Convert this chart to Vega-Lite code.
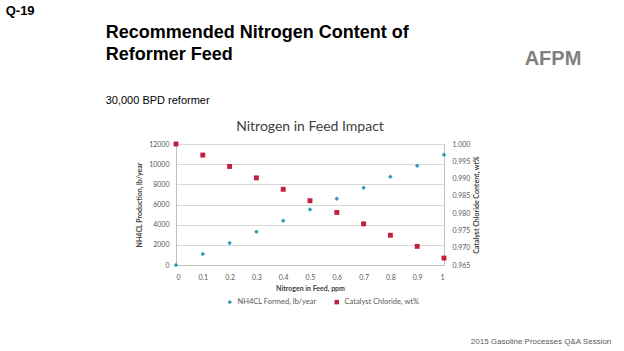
{
  "$schema": "https://vega.github.io/schema/vega-lite/v6.json",
  "background": "white",
  "padding": {"left": 5, "top": 5, "right": 3, "bottom": 5},
  "config": {
    "view": {"stroke": null},
    "font": "Lato",
    "concat": {"spacing": 0},
    "title": {"font": "Liberation Sans", "color": "#000000"}
  },
  "title": {"text": "2015 Gasoline Processes Q&A Session", "orient": "bottom", "anchor": "end", "fontSize": 8, "fontWeight": "normal", "color": "#595959", "offset": 32, "dx": 30},
  "vconcat": [
    {
      "title": {"text": "Q-19", "anchor": "start", "fontSize": 13, "fontWeight": "bold", "offset": 6, "dx": -100},
      "hconcat": [
        {
          "title": {"text": ["Recommended Nitrogen Content of", "Reformer Feed"], "subtitle": "30,000 BPD reformer", "anchor": "start", "fontSize": 18, "fontWeight": "bold", "lineHeight": 22, "subtitleFontSize": 11, "subtitlePadding": 31, "subtitleFont": "Liberation Sans", "subtitleColor": "#000000", "offset": 14, "dx": -30},
          "vconcat": [
            {
              "title": {"text": "Nitrogen in Feed Impact", "font": "Lato", "fontSize": 14, "fontWeight": "normal", "color": "#404040", "anchor": "middle", "offset": 6},
              "width": 268,
              "height": 121,
              "data": {"values": [
                {"ppm": 0.0, "series": "NH4CL Formed, lb/year", "value": 0},
                {"ppm": 0.1, "series": "NH4CL Formed, lb/year", "value": 1100},
                {"ppm": 0.2, "series": "NH4CL Formed, lb/year", "value": 2180},
                {"ppm": 0.3, "series": "NH4CL Formed, lb/year", "value": 3290},
                {"ppm": 0.4, "series": "NH4CL Formed, lb/year", "value": 4390},
                {"ppm": 0.5, "series": "NH4CL Formed, lb/year", "value": 5500},
                {"ppm": 0.6, "series": "NH4CL Formed, lb/year", "value": 6580},
                {"ppm": 0.7, "series": "NH4CL Formed, lb/year", "value": 7670},
                {"ppm": 0.8, "series": "NH4CL Formed, lb/year", "value": 8750},
                {"ppm": 0.9, "series": "NH4CL Formed, lb/year", "value": 9850},
                {"ppm": 1.0, "series": "NH4CL Formed, lb/year", "value": 10940},
                {"ppm": 0.0, "series": "Catalyst Chloride, wt%", "value": 1.0},
                {"ppm": 0.1, "series": "Catalyst Chloride, wt%", "value": 0.9968},
                {"ppm": 0.2, "series": "Catalyst Chloride, wt%", "value": 0.9935},
                {"ppm": 0.3, "series": "Catalyst Chloride, wt%", "value": 0.9902},
                {"ppm": 0.4, "series": "Catalyst Chloride, wt%", "value": 0.9869},
                {"ppm": 0.5, "series": "Catalyst Chloride, wt%", "value": 0.9836},
                {"ppm": 0.6, "series": "Catalyst Chloride, wt%", "value": 0.9802},
                {"ppm": 0.7, "series": "Catalyst Chloride, wt%", "value": 0.9769},
                {"ppm": 0.8, "series": "Catalyst Chloride, wt%", "value": 0.9736},
                {"ppm": 0.9, "series": "Catalyst Chloride, wt%", "value": 0.9704},
                {"ppm": 1.0, "series": "Catalyst Chloride, wt%", "value": 0.967}
              ]},
              "encoding": {
                "x": {"field": "ppm", "type": "quantitative", "scale": {"domain": [0, 1], "nice": false},
                  "axis": {"values": [0, 0.1, 0.2, 0.3, 0.4, 0.5, 0.6, 0.7, 0.8, 0.9, 1], "format": "~g", "grid": false, "domain": true, "domainColor": "#BFBFBF", "ticks": false, "labelPadding": 8, "labelFontSize": 7, "labelColor": "#595959", "title": "Nitrogen in Feed, ppm", "titleFontSize": 7, "titleFontWeight": "bold", "titleColor": "#404040", "titlePadding": 4}},
                "color": {"field": "series", "type": "nominal", "scale": {"domain": ["NH4CL Formed, lb/year", "Catalyst Chloride, wt%"], "range": ["#2E9CB8", "#C0203A"]},
                  "legend": {"title": null, "orient": "none", "legendX": 50, "legendY": 154, "direction": "horizontal", "labelFontSize": 7.5, "labelColor": "#595959", "symbolSize": 20, "columnPadding": 16}},
                "shape": {"field": "series", "type": "nominal", "scale": {"domain": ["NH4CL Formed, lb/year", "Catalyst Chloride, wt%"], "range": ["diamond", "square"]},
                  "legend": {"title": null, "orient": "none", "legendX": 50, "legendY": 154, "direction": "horizontal", "labelFontSize": 7.5, "labelColor": "#595959", "symbolSize": 20, "columnPadding": 16}}
              },
              "layer": [
                {
                  "transform": [{"filter": "datum.series == 'NH4CL Formed, lb/year'"}],
                  "mark": {"type": "point", "filled": true, "size": 20, "opacity": 1},
                  "encoding": {
                    "y": {"field": "value", "type": "quantitative", "scale": {"domain": [0, 12000], "nice": false},
                      "axis": {"orient": "left", "values": [0, 2000, 4000, 6000, 8000, 10000, 12000], "format": "d", "grid": true, "gridColor": "#D9D9D9", "domain": true, "domainColor": "#BFBFBF", "ticks": false, "labelFontSize": 7, "labelColor": "#595959", "labelPadding": 7, "title": "NH4CL Production, lb/year", "titleFontSize": 7, "titleFontWeight": "bold", "titleColor": "#404040", "titlePadding": 6}}
                  }
                },
                {
                  "transform": [{"filter": "datum.series == 'Catalyst Chloride, wt%'"}],
                  "mark": {"type": "point", "filled": true, "size": 24, "opacity": 1},
                  "encoding": {
                    "y": {"field": "value", "type": "quantitative", "scale": {"domain": [0.965, 1.0], "nice": false, "zero": false},
                      "axis": {"orient": "right", "values": [0.965, 0.97, 0.975, 0.98, 0.985, 0.99, 0.995, 1.0], "format": ".3f", "grid": false, "domain": true, "domainColor": "#BFBFBF", "ticks": false, "labelFontSize": 7, "labelColor": "#595959", "labelPadding": 8, "title": "Catalyst Chloride Content, wt%", "titleAngle": 270, "titleFontSize": 7, "titleFontWeight": "bold", "titleColor": "#404040", "titlePadding": 10}}
                  }
                }
              ],
              "resolve": {"scale": {"y": "independent"}}
            }
          ]
        },
        {
          "width": 100,
          "height": 66,
          "data": {"values": [{"name": "AFPM"}]},
          "mark": {"type": "text", "font": "Liberation Sans", "fontSize": 20, "fontWeight": "bold", "color": "#7F7F7F", "baseline": "middle", "dx": 23, "dy": -118},
          "encoding": {"text": {"field": "name", "type": "nominal"}}
        }
      ]
    }
  ]
}
